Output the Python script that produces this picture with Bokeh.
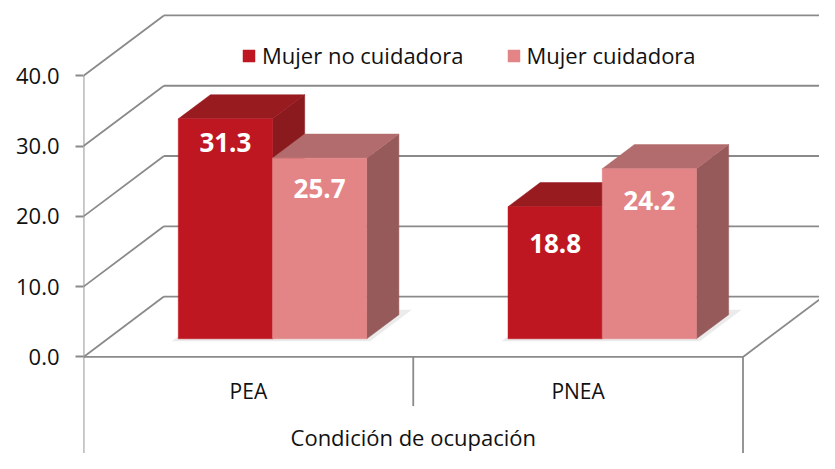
from bokeh.plotting import figure
from bokeh.models import (Range1d, LinearAxis, FixedTicker, NumeralTickFormatter,
                          Legend, LegendItem)
from bokeh.core.properties import value
from bokeh.embed import file_html
from bokeh.resources import INLINE

# ---------------- data ----------------
categories = ["PEA", "PNEA"]
series_names = ["Mujer no cuidadora", "Mujer cuidadora"]
mujer_no_cuidadora = [31.3, 18.8]
mujer_cuidadora = [25.7, 24.2]
y_ticks = [0, 10, 20, 30, 40]
x_title = "Condición de ocupación"

# ---------------- layout / style ----------------
W, H = 819, 453
SX, SY = W / 835.0, H / 469.0          # fit the 835x469 design into the figure
LEFT = round(85 * SX)                  # left border holding the value axis
PX_PER_CAT = (757 * SX - LEFT) / 2.0   # pixels per category on the front plane
PX_PER_UNIT = 7.275 * SY               # pixels per value unit
ZERO_PY = 369.0 * SY                   # px from figure top to the 0 line
DEPTH_PX = (82.0 * SX, 62.5 * SY)      # oblique depth vector in px
Z0, Z1 = 0.3, 0.7                      # bar depth span (fraction of full depth)
GAP = 1.5                              # gap width in bar widths

FONT = "Open Sans"
GRID = "#8a8a8a"
TXT = "#111111"
FRONT = ["#BF1721", "#E38486"]
TOP = ["#981B20", "#B36C6D"]
SIDE = ["#8A1A1E", "#965A5B"]

DX = DEPTH_PX[0] / PX_PER_CAT
DY = DEPTH_PX[1] / PX_PER_UNIT
ncat = len(categories)
ymax = max(y_ticks)

p = figure(width=W, height=H, output_backend="svg", toolbar_location=None,
           x_axis_type=None, y_axis_type=None,
           x_range=Range1d(0, (W - LEFT) / PX_PER_CAT),
           y_range=Range1d(-(H - ZERO_PY) / PX_PER_UNIT, ZERO_PY / PX_PER_UNIT),
           min_border_left=LEFT, min_border_right=0, min_border_top=0, min_border_bottom=0)
p.outline_line_color = None
p.background_fill_color = "white"
p.border_fill_color = "white"

yax = LinearAxis(ticker=FixedTicker(ticks=y_ticks),
                 formatter=NumeralTickFormatter(format="0.0"))
yax.axis_line_color = None
yax.major_tick_line_color = GRID
yax.major_tick_line_width = 1.8
yax.major_tick_out = 8
yax.major_tick_in = 0
yax.minor_tick_line_color = None
yax.major_label_standoff = 16
yax.major_label_text_font = FONT
yax.major_label_text_font_size = "22px"
yax.major_label_text_color = TXT
p.add_layout(yax, "left")


def proj(x, y, z):
    return x + z * DX, y + z * DY


# ---------------- walls and floor ----------------
xs, ys = [], []
bottom = p.y_range.start
for t in y_ticks:
    a = proj(0, t, 1); b = proj(ncat, t, 1)
    xs.append([a[0], b[0]]); ys.append([a[1], b[1]])      # back wall gridline
    c = proj(0, t, 0)
    xs.append([c[0], a[0]]); ys.append([c[1], a[1]])      # left wall diagonal
f0 = proj(0, 0, 0); f1 = proj(ncat, 0, 0); f2 = proj(ncat, 0, 1)
xs += [[f0[0], f1[0]], [f1[0], f2[0]]]; ys += [[f0[1], f1[1]], [f1[1], f2[1]]]
xs += [[0, 0], [ncat, ncat]]; ys += [[ymax, bottom], [0, bottom]]
for i in range(1, ncat):
    xs.append([i, i]); ys.append([0, -7.0])
p.multi_line(xs, ys, line_color=GRID, line_width=1.8)

# ---------------- bars ----------------
bw = 1.0 / (2 + GAP)
values = [mujer_no_cuidadora, mujer_cuidadora]
dz = Z1 - Z0
base = Z0 * DY

# soft shadow under each group
for i in range(ncat):
    gx0 = i + (GAP / 2) * bw - 0.01
    gx1 = gx0 + 2 * bw + 0.03
    sx, sy = [], []
    for (gx, z) in [(gx0, Z0 - 0.04), (gx1, Z0 - 0.04), (gx1, Z1 + 0.08), (gx0, Z1 + 0.08)]:
        q = proj(gx, 0, z); sx.append(q[0]); sy.append(q[1])
    p.patch(sx, sy, fill_color="#000000", fill_alpha=0.08, line_color=None)

legend_items = []
label_x, label_y, label_t = [], [], []
for j, vals in enumerate(values):
    fx, fy, tx, ty, sx, sy = [], [], [], [], [], []
    for i, v in enumerate(vals):
        x0 = i + (GAP / 2 + j) * bw + Z0 * DX
        x1 = x0 + bw
        top = base + v
        ddx, ddy = dz * DX, dz * DY
        fx.append([x0, x1, x1, x0]); fy.append([base, base, top, top])
        tx.append([x0, x1, x1 + ddx, x0 + ddx]); ty.append([top, top, top + ddy, top + ddy])
        sx.append([x1, x1 + ddx, x1 + ddx, x1]); sy.append([base, base + ddy, top + ddy, top])
        label_x.append((x0 + x1) / 2)
        label_y.append(base + 1.15 * v - 8.1)
        label_t.append(f"{v:.1f}")
    p.patches(sx, sy, fill_color=SIDE[j], line_color=SIDE[j], line_width=0.5)
    p.patches(tx, ty, fill_color=TOP[j], line_color=TOP[j], line_width=0.5)
    r = p.patches(fx, fy, fill_color=FRONT[j], line_color=FRONT[j], line_width=0.5)
    legend_items.append(LegendItem(label=series_names[j], renderers=[r]))

p.text(x=label_x, y=label_y, text=label_t, text_color="white",
       text_font=value(FONT), text_font_style="bold", text_font_size="26px",
       text_align="center", text_baseline="middle")

# ---------------- category labels & title ----------------
p.text(x=[i + 0.5 for i in range(ncat)], y=[-4.9] * ncat, text=categories,
       text_color=TXT, text_font=value(FONT), text_font_size="21px",
       text_align="center", text_baseline="middle")
p.text(x=[ncat / 2], y=[-11.4], text=[x_title],
       text_color=TXT, text_font=value(FONT), text_font_size="22px",
       text_align="center", text_baseline="middle")

# ---------------- legend ----------------
leg = Legend(items=legend_items, orientation="horizontal",
             location=(round(246 * SX) - LEFT, 383),
             padding=0, margin=0, spacing=42, label_standoff=6,
             glyph_width=15, glyph_height=15,
             label_text_font=FONT, label_text_font_size="22px",
             label_text_color=TXT,
             background_fill_alpha=0, border_line_color=None)
p.add_layout(leg)

open("out.html", "w").write(file_html(p, INLINE))
